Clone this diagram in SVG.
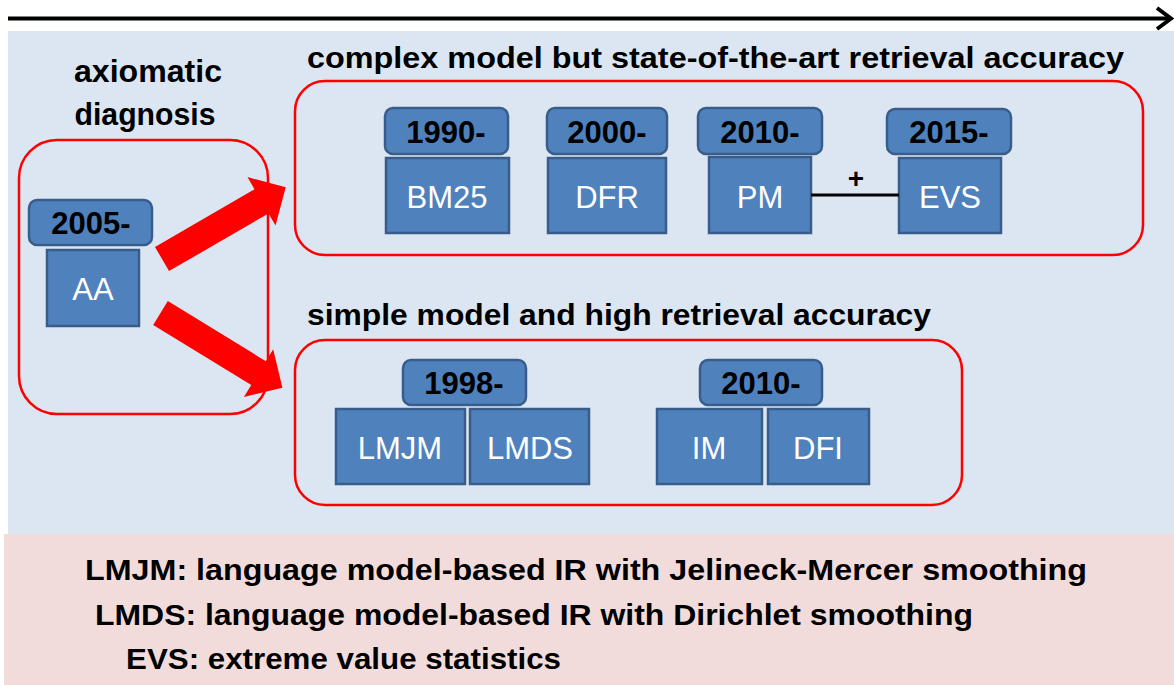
<svg xmlns="http://www.w3.org/2000/svg" width="1174" height="685" viewBox="0 0 1174 685">
<style>
.t{font-family:"Liberation Sans",Arial,sans-serif;font-weight:bold;fill:#000}
.w{font-family:"Liberation Sans",Arial,sans-serif;fill:#fff;font-size:31px;text-anchor:middle}
.tab{fill:#4f81bd;stroke:#385d8a;stroke-width:2.5}
.box{fill:#4f81bd;stroke:#385d8a;stroke-width:2.5}
.grp{fill:none;stroke:#ff0000;stroke-width:2.5}
.yr{font-family:"Liberation Sans",Arial,sans-serif;font-weight:bold;fill:#000;font-size:31px;text-anchor:middle}
.arr{fill:#ff0000}
</style>
<rect x="0" y="0" width="1174" height="685" fill="#ffffff"/>
<rect x="8" y="31" width="1166" height="503" fill="#dce6f2"/>
<rect x="4" y="534" width="1170" height="151" fill="#f2dcdb"/>
<g id="timeline">
<line x1="8" y1="18.5" x2="1170" y2="18.5" stroke="#000" stroke-width="4"/>
<polyline points="1157,8 1171,18.5 1157,29" fill="none" stroke="#000" stroke-width="4"/>
</g>
<g id="axiomatic">
<text class="t" font-size="31" x="148" y="82" text-anchor="middle" textLength="148" lengthAdjust="spacingAndGlyphs">axiomatic</text>
<text class="t" font-size="31" x="145" y="125" text-anchor="middle" textLength="141" lengthAdjust="spacingAndGlyphs">diagnosis</text>
<rect class="grp" x="19" y="140" width="249" height="274" rx="38"/>
<rect class="tab" x="29" y="200" width="123" height="45" rx="8"/>
<text class="yr" x="91" y="234">2005-</text>
<rect class="box" x="47" y="250" width="92" height="76"/>
<text class="w" x="93" y="300">AA</text>
</g>
<g id="complex">
<text class="t" font-size="30" x="307" y="68" textLength="817" lengthAdjust="spacingAndGlyphs">complex model but state-of-the-art retrieval accuracy</text>
<rect class="grp" x="295" y="81" width="848" height="174" rx="30"/>
</g>
<g id="bm25">
<rect class="tab" x="385" y="108" width="123" height="46" rx="8"/>
<text class="yr" x="446" y="143">1990-</text>
<rect class="box" x="386" y="158" width="123" height="75"/>
<text class="w" x="447" y="208">BM25</text>
</g>
<g id="dfr">
<rect class="tab" x="547" y="108" width="120" height="46" rx="8"/>
<text class="yr" x="607" y="143">2000-</text>
<rect class="box" x="548" y="158" width="118" height="75"/>
<text class="w" x="607" y="208">DFR</text>
</g>
<g id="pm">
<rect class="tab" x="698" y="108" width="124" height="46" rx="8"/>
<text class="yr" x="760" y="143">2010-</text>
<rect class="box" x="709" y="157" width="102" height="76"/>
<text class="w" x="760" y="208">PM</text>
</g>
<g id="evs">
<rect class="tab" x="887" y="109" width="124" height="45" rx="8"/>
<text class="yr" x="949" y="143">2015-</text>
<rect class="box" x="899" y="158" width="102" height="75"/>
<text class="w" x="950" y="208">EVS</text>
</g>
<g id="simple">
<text class="t" font-size="30" x="307" y="325" textLength="624" lengthAdjust="spacingAndGlyphs">simple model and high retrieval accuracy</text>
<rect class="grp" x="295" y="340" width="667" height="165" rx="30"/>
</g>
<g id="lm">
<rect class="tab" x="403" y="360" width="123" height="45" rx="8"/>
<text class="yr" x="464" y="394">1998-</text>
<rect class="box" x="336" y="409" width="129" height="75"/>
<text class="w" x="400" y="459">LMJM</text>
<rect class="box" x="470" y="409" width="119" height="75"/>
<text class="w" x="530" y="459">LMDS</text>
</g>
<g id="im">
<rect class="tab" x="700" y="360" width="122" height="45" rx="8"/>
<text class="yr" x="761" y="394">2010-</text>
<rect class="box" x="657" y="409" width="105" height="75"/>
<text class="w" x="709" y="459">IM</text>
<rect class="box" x="768" y="409" width="101" height="75"/>
<text class="w" x="818" y="459">DFI</text>
</g>
<g id="connectors">
<polygon class="arr" transform="translate(162,259) rotate(-30.1)" points="0,-14 115,-14 115,-28 143,0 115,28 115,14 0,14"/>
<polygon class="arr" transform="translate(160.5,313) rotate(31.5)" points="0,-14 115,-14 115,-28 143,0 115,28 115,14 0,14"/>
<line x1="811" y1="195" x2="899" y2="195" stroke="#000" stroke-width="3"/>
<text class="t" font-size="28" x="856" y="188" text-anchor="middle">+</text>
</g>
<g id="legend">
<text class="t" font-size="30" x="85" y="580" textLength="1002" lengthAdjust="spacingAndGlyphs">LMJM: language model-based IR with Jelineck-Mercer smoothing</text>
<text class="t" font-size="30" x="95" y="625" textLength="878" lengthAdjust="spacingAndGlyphs">LMDS: language model-based IR with Dirichlet smoothing</text>
<text class="t" font-size="30" x="126" y="669" textLength="435" lengthAdjust="spacingAndGlyphs">EVS: extreme value statistics</text>
</g>
</svg>
